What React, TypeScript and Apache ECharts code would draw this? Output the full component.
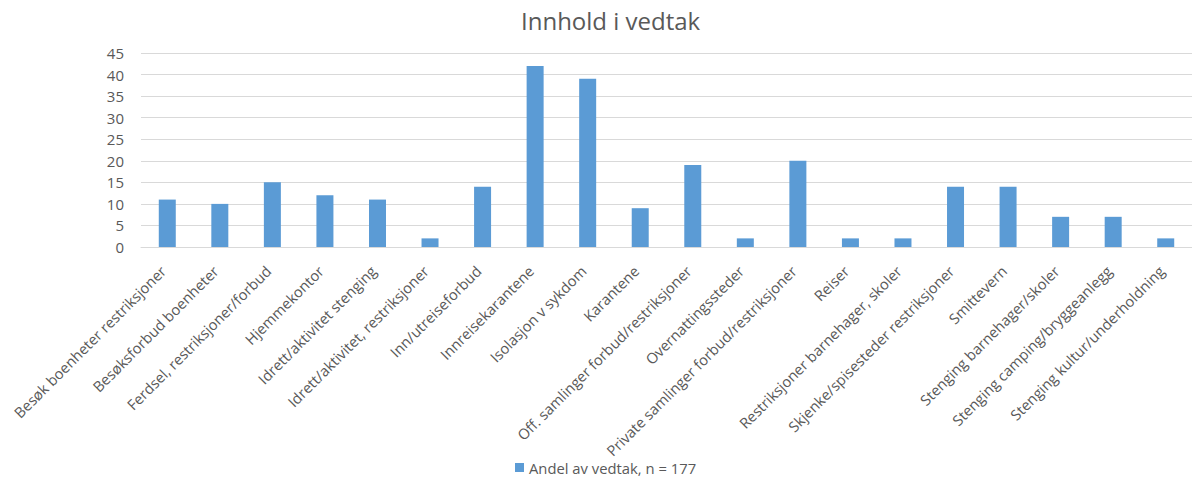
import React, { useEffect, useRef } from "react";
import * as echarts from "echarts";

const categories = [
  "Besøk boenheter restriksjoner",
  "Besøksforbud boenheter",
  "Ferdsel, restriksjoner/forbud",
  "Hjemmekontor",
  "Idrett/aktivitet stenging",
  "Idrett/aktivitet, restriksjoner",
  "Inn/utreiseforbud",
  "Innreisekarantene",
  "Isolasjon v sykdom",
  "Karantene",
  "Off. samlinger forbud/restriksjoner",
  "Overnattingssteder",
  "Private samlinger forbud/restriksjoner",
  "Reiser",
  "Restriksjoner barnehager, skoler",
  "Skjenke/spisesteder restriksjoner",
  "Smittevern",
  "Stenging barnehager/skoler",
  "Stenging camping/bryggeanlegg",
  "Stenging kultur/underholdning",
];

const values = [11, 10, 15, 12, 11, 2, 14, 42, 39, 9, 19, 2, 20, 2, 2, 14, 14, 7, 7, 2];

const seriesName = "Andel av vedtak, n = 177";
const titleText = "Innhold i vedtak";

export default function App() {
  const ref = useRef<HTMLDivElement>(null);
  useEffect(() => {
    if (!ref.current) return;
    const chart = echarts.init(ref.current, null, { renderer: "svg" });
    const font = "'Open Sans', sans-serif";
    chart.setOption({
      animation: false,
      backgroundColor: "#ffffff",
      textStyle: { fontFamily: font },
      title: {
        text: titleText,
        left: 516,
        top: 3,
        textStyle: { fontSize: 24, fontWeight: "normal", color: "#595959", fontFamily: font },
      },
      legend: {
        left: 515,
        top: 459,
        padding: 0,
        itemWidth: 9,
        itemHeight: 9,
        itemGap: 5,
        textStyle: { fontSize: 14.8, lineHeight: 17, color: "#595959", fontFamily: font },
        data: [{ name: seriesName, icon: "rect" }],
      },
      grid: { left: 141, top: 53, width: 1057, height: 194, containLabel: false },
      xAxis: {
        type: "category",
        data: categories,
        axisLine: { show: true, lineStyle: { color: "#d9d9d9" } },
        axisTick: { show: false },
        axisLabel: {
          rotate: 45,
          interval: 0,
          margin: 17,
          padding: [0, 6, 0, 0],
          fontSize: 14.7,
          color: "#595959",
          fontFamily: font,
        },
      },
      yAxis: {
        type: "value",
        min: 0,
        max: 45,
        interval: 5,
        axisLine: { show: false },
        axisTick: { show: false },
        splitLine: { lineStyle: { color: "#d9d9d9", width: 1 } },
        axisLabel: { fontSize: 15, color: "#595959", margin: 17, fontFamily: font },
      },
      series: [
        {
          name: seriesName,
          type: "bar",
          data: values,
          barWidth: 17,
          itemStyle: { color: "#5B9BD5" },
        },
      ],
    });
    return () => chart.dispose();
  }, []);
  return (
    <div
      ref={ref}
      style={{ position: "fixed", left: 0, top: 0, width: 1192, height: 479 }}
    />
  );
}
